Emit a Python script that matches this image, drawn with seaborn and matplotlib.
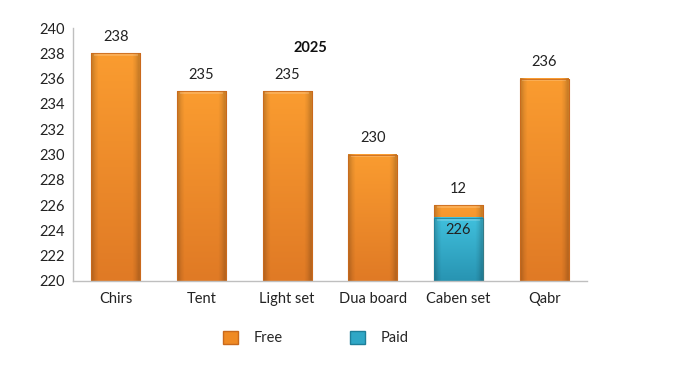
import matplotlib
matplotlib.use("Agg")
import matplotlib.pyplot as plt
import seaborn as sns
import pandas as pd
import numpy as np
from matplotlib.patches import Patch
from matplotlib.colors import to_rgb

categories = ["Chirs", "Tent", "Light set", "Dua board", "Caben set", "Qabr"]
free_values = [238, 235, 235, 230, 226, 236]
free_labels = ["238", "235", "235", "230", "12", "236"]
paid_values = [0, 0, 0, 0, 225, 0]
paid_labels = ["", "", "", "", "226", ""]
y_ticks = [220, 222, 224, 226, 228, 230, 232, 234, 236, 238, 240]
title = "2025"

sns.set_theme(style="white")
plt.rcParams["font.family"] = ["Lato", "DejaVu Sans"]

FREE = "#EF8A24"
FREE_TOP, FREE_BOT, FREE_EDGE = "#FA9C30", "#E07A25", "#C9691C"
PAID = "#2FA7C6"
PAID_TOP, PAID_BOT, PAID_EDGE = "#40C0DD", "#2894B2", "#1E7F99"

fig = plt.figure(figsize=(6.81, 3.70), dpi=100)
ax = fig.add_axes([73/681, 1-281/370, (587-73)/681, (281-28)/370])

df_free = pd.DataFrame({"cat": categories, "val": free_values})
df_paid = pd.DataFrame({"cat": categories, "val": paid_values})

sns.barplot(data=df_free, x="cat", y="val", color=FREE, width=0.57, ax=ax,
            saturation=1, edgecolor=FREE_EDGE, linewidth=0.8)
n_free = len(ax.patches)
sns.barplot(data=df_paid, x="cat", y="val", color=PAID, width=0.57, ax=ax,
            saturation=1, edgecolor=PAID_EDGE, linewidth=0.8)

ax.set_ylim(220, 240)
ax.set_xlim(-0.5, 5.5)


def shade(p, top, bot, edge, z):
    x0, w = p.get_x(), p.get_width()
    y1 = p.get_y() + p.get_height()
    y0 = max(p.get_y(), 220)
    if y1 <= 220:
        return
    n = 64
    t = np.linspace(0, 1, n)[:, None]
    ct, cb = np.array(to_rgb(top)), np.array(to_rgb(bot))
    col = ct[None, :] * (1 - t) + cb[None, :] * t
    img = np.repeat(col[:, None, :], 16, axis=1)
    side = np.ones(16)
    side[0] = side[-1] = 0.82
    side[1] = side[-2] = 0.93
    img = img * side[None, :, None]
    ax.imshow(img, extent=[x0, x0 + w, y0, y1], aspect="auto", zorder=z,
              interpolation="bilinear")
    ax.fill_between([x0 + 0.03, x0 + w - 0.03], y1 - 0.22, y1,
                    color="white", alpha=0.18, lw=0, zorder=z + 0.1)
    ax.add_patch(plt.Rectangle((x0, y0), w, y1 - y0, fill=False, ec=edge,
                               lw=0.6, zorder=z + 0.2))


patches = ax.patches[:]
for p in patches[:n_free]:
    shade(p, FREE_TOP, FREE_BOT, FREE_EDGE, 2)
for p in patches[n_free:]:
    if p.get_height() > 0:
        shade(p, PAID_TOP, PAID_BOT, PAID_EDGE, 3)

ax.set_xlim(-0.5, 5.5)
ax.set_ylim(220, 240)
ax.set_yticks(y_ticks)
ax.set_yticklabels([str(t) for t in y_ticks], fontsize=10.5, color="#222222")
ax.tick_params(axis="x", labelsize=10.5, colors="#222222", pad=8, length=0)
ax.tick_params(axis="y", length=0, pad=6)
ax.set_xlabel("")
ax.set_ylabel("")
for s in ["top", "right"]:
    ax.spines[s].set_visible(False)
for s in ["left", "bottom"]:
    ax.spines[s].set_color("#BFBFBF")
    ax.spines[s].set_linewidth(1.0)
    ax.spines[s].set_zorder(5)

for i, p in enumerate(patches[:n_free]):
    x = p.get_x() + p.get_width() / 2
    ax.text(x, free_values[i] + 0.75, free_labels[i], ha="center", va="bottom",
            fontsize=10.5, color="#222222", zorder=6)
for i, p in enumerate(patches[n_free:]):
    if paid_labels[i]:
        x = p.get_x() + p.get_width() / 2
        ax.text(x, paid_values[i] - 0.4, paid_labels[i], ha="center", va="top",
                fontsize=10.5, color="#222222", zorder=6)

ax.text(0.462, 0.922, title, transform=ax.transAxes, ha="center", va="center",
        fontsize=10.5, fontweight="bold", color="#111111")

handles = [Patch(facecolor=FREE, edgecolor=FREE_EDGE, label="Free"),
           Patch(facecolor=PAID, edgecolor=PAID_EDGE, label="Paid")]
fig.legend(handles=handles, loc="center", bbox_to_anchor=(316/681, 1-338/370),
           ncol=2, frameon=False, fontsize=10.5, handlelength=1.0, handleheight=1.0,
           columnspacing=4.6, handletextpad=1.1)

fig.savefig("out.png", dpi=100)
